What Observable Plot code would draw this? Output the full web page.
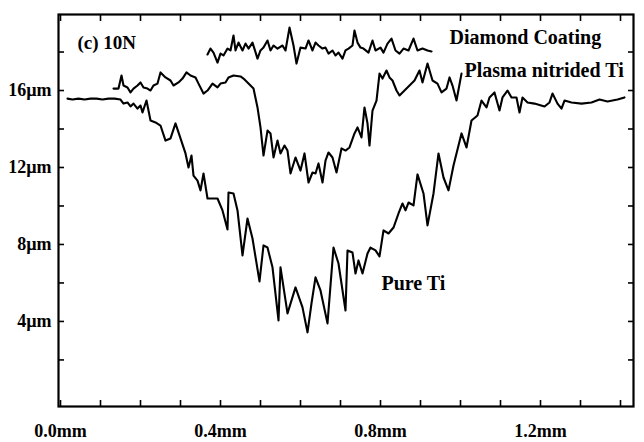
<!DOCTYPE html>
<html>
<head>
<meta charset="utf-8">
<script src="https://cdn.jsdelivr.net/npm/d3@7"></script>
<script src="https://cdn.jsdelivr.net/npm/@observablehq/plot@0.6"></script>
<style>
  html, body { margin: 0; padding: 0; background: white; }
</style>
</head>
<body>
<div id="chart"></div>
<script>
// ---- data (mm along scan, µm depth profile) ----
const pureTiX = [0.0175,0.03,0.045,0.06,0.075,0.09,0.105,0.12,0.135,0.15,0.1575,0.1675,0.175,0.1825,0.1925,0.2,0.205,0.215,0.225,0.2375,0.25,0.2625,0.275,0.2875,0.3,0.3125,0.32,0.3275,0.3325,0.3425,0.35,0.3575,0.3675,0.3825,0.3925,0.405,0.4175,0.42,0.4325,0.4425,0.455,0.4675,0.48,0.4975,0.5075,0.5175,0.53,0.545,0.55,0.5675,0.5875,0.605,0.6175,0.6275,0.6375,0.65,0.6675,0.6825,0.695,0.7125,0.7175,0.73,0.7375,0.745,0.755,0.7675,0.775,0.7875,0.7975,0.8075,0.82,0.8325,0.845,0.855,0.8625,0.87,0.8825,0.8925,0.9075,0.9175,0.9325,0.945,0.9575,0.97,0.9825,1.0025,1.015,1.0275,1.0425,1.0525,1.065,1.0725,1.085,1.0975,1.105,1.1175,1.1275,1.14,1.1475,1.155,1.1675,1.185,1.21,1.2225,1.23,1.2425,1.2525,1.26,1.2775,1.3025,1.3275,1.3475,1.3675,1.3925,1.41];
const pureTiY = [15.58,15.53,15.58,15.53,15.58,15.58,15.53,15.58,15.58,15.53,15.32,15.38,15.17,15.32,15.06,15.22,14.86,15.48,14.44,14.34,14.18,13.40,13.51,14.29,13.51,12.73,12.0,12.62,11.58,11.32,10.81,11.69,10.39,10.39,10.39,9.77,8.78,10.70,10.65,9.77,7.43,9.35,8.31,6.08,7.95,7.84,6.81,4.05,6.81,4.42,5.77,4.73,3.43,4.94,6.29,5.61,3.90,7.84,7.01,4.57,7.69,7.58,6.49,7.17,6.49,7.53,7.84,7.69,7.38,8.73,8.57,8.88,9.61,10.13,9.77,10.18,10.03,11.64,10.65,8.99,10.65,12.73,11.48,10.81,12.10,13.77,13.04,14.44,14.70,15.48,15.12,15.64,15.90,14.96,15.64,16.0,15.64,15.64,14.86,15.64,15.38,15.32,15.17,15.38,15.84,15.32,15.06,15.48,15.38,15.32,15.38,15.53,15.43,15.53,15.64];

const plasmaX = [0.1325,0.145,0.1525,0.1575,0.1675,0.175,0.1825,0.1925,0.2,0.2075,0.2175,0.225,0.2325,0.2425,0.25,0.2625,0.275,0.2825,0.295,0.305,0.315,0.325,0.3375,0.345,0.3575,0.3675,0.38,0.3925,0.4,0.4125,0.42,0.4325,0.45,0.4575,0.47,0.4825,0.4925,0.5,0.5075,0.5175,0.525,0.5325,0.5425,0.55,0.56,0.5675,0.575,0.5875,0.6,0.61,0.62,0.63,0.6375,0.645,0.655,0.6625,0.67,0.68,0.69,0.7025,0.7125,0.7225,0.735,0.7425,0.7525,0.76,0.7675,0.7725,0.78,0.79,0.7975,0.805,0.815,0.8225,0.83,0.84,0.8475,0.86,0.8725,0.885,0.8975,0.905,0.9175,0.93,0.9425,0.9525,0.965,0.9725,0.98,0.99,1.0025];
const plasmaY = [16.10,16.10,16.78,16.26,16.16,15.90,16.10,16.26,16.42,16.16,16.10,16.0,16.26,16.36,16.94,16.68,16.52,16.26,16.42,16.62,16.94,16.78,16.68,16.36,15.84,16.0,16.36,16.16,16.36,16.42,16.68,16.78,16.73,16.62,16.36,16.10,15.12,14.08,12.62,13.92,13.77,12.52,13.40,12.73,13.14,12.88,11.69,12.52,11.84,12.73,11.22,11.74,11.69,12.21,11.22,12.36,12.78,12.52,11.74,12.99,12.88,13.04,13.77,14.08,13.56,15.12,14.29,13.14,14.96,15.48,16.88,16.62,17.04,16.68,16.52,16.0,15.74,16.0,16.26,16.52,17.04,16.42,17.40,16.52,16.36,15.90,16.10,16.68,16.26,15.48,16.88];

const diamondX = [0.3675,0.375,0.3825,0.3925,0.4,0.4075,0.4175,0.425,0.4325,0.4375,0.445,0.455,0.4625,0.47,0.48,0.4925,0.5,0.5075,0.5175,0.525,0.5325,0.5425,0.555,0.5625,0.5725,0.5825,0.59,0.6,0.6125,0.62,0.63,0.6375,0.645,0.655,0.6625,0.67,0.68,0.6875,0.695,0.705,0.7125,0.72,0.73,0.735,0.7425,0.75,0.7575,0.77,0.78,0.7875,0.8,0.8075,0.8175,0.8275,0.8375,0.8475,0.8575,0.87,0.8825,0.8925,0.905,0.9175,0.9275];
const diamondY = [17.87,18.18,17.97,17.45,17.92,17.82,18.18,18.08,18.86,18.08,18.49,18.08,18.44,18.18,18.49,17.66,18.08,18.23,18.60,18.08,18.34,18.18,18.34,18.08,19.27,18.34,17.40,18.23,18.18,18.60,18.08,18.49,18.34,18.18,18.23,17.92,18.08,17.82,17.97,17.66,18.08,18.18,18.34,19.12,18.49,18.23,18.18,17.97,18.60,18.08,18.23,17.97,18.44,18.70,18.08,17.92,18.18,18.08,18.70,18.08,18.18,18.08,18.03];

const xTicksAll = [0,0.1,0.2,0.3,0.4,0.5,0.6,0.7,0.8,0.9,1.0,1.1,1.2,1.3,1.4];
const xLabelTicks = [0,0.4,0.8,1.2];
const yTicksAll = [2,4,6,8,10,12,14,16,18];
const yLabelTicks = [4,8,12,16];

const series = [
  {name: "Pure Ti", xs: pureTiX, ys: pureTiY},
  {name: "Plasma nitrided Ti", xs: plasmaX, ys: plasmaY},
  {name: "Diamond Coating", xs: diamondX, ys: diamondY}
];
const rows = series.flatMap(s => s.xs.map((x, i) => ({series: s.name, x, y: s.ys[i]})));

const serif = "'Liberation Serif', 'Times New Roman', serif";

const chart = Plot.plot({
  width: 644,
  height: 442,
  marginLeft: 58,
  marginRight: 11,
  marginTop: 14,
  marginBottom: 36,
  x: {domain: [-0.005, 1.4325], label: null},
  y: {domain: [-0.42, 19.95], label: null},
  style: {fontFamily: serif, fontWeight: "bold", background: "white", color: "black"},
  marks: [
    Plot.axisX({anchor: "bottom", ticks: xTicksAll, tickSize: -6, tickFormat: () => "", strokeWidth: 1.6, label: null}),
    Plot.axisX({anchor: "top", ticks: xTicksAll, tickSize: -6, tickFormat: () => "", strokeWidth: 1.6, label: null}),
    Plot.axisX({anchor: "bottom", ticks: xLabelTicks, tickSize: 0, tickPadding: 18, tickFormat: d => d.toFixed(1) + "mm", fontSize: 18, fontWeight: "bold", label: null}),
    Plot.axisY({anchor: "left", ticks: yTicksAll, tickSize: -6, tickFormat: () => "", strokeWidth: 1.6, label: null}),
    Plot.axisY({anchor: "right", ticks: yTicksAll, tickSize: -6, tickFormat: () => "", strokeWidth: 1.6, label: null}),
    Plot.axisY({anchor: "left", ticks: yLabelTicks, tickSize: 0, tickPadding: 7, tickFormat: d => d + "µm", fontSize: 18, fontWeight: "bold", label: null}),
    Plot.frame({stroke: "black", strokeWidth: 2.2}),
    Plot.line(rows, {x: "x", y: "y", z: "series", stroke: "black", strokeWidth: 2.1, strokeLinejoin: "round", curve: "linear"}),
    Plot.text(["(c) 10N"], {text: d => d, frameAnchor: "top-left", dx: 19, dy: 28, textAnchor: "start", lineAnchor: "middle", fontSize: 19, fontWeight: "bold"}),
    Plot.text(["Diamond Coating"], {text: d => d, frameAnchor: "top-left", dx: 391, dy: 23, textAnchor: "start", lineAnchor: "middle", fontSize: 20, fontWeight: "bold"}),
    Plot.text(["Plasma nitrided Ti"], {text: d => d, frameAnchor: "top-left", dx: 406, dy: 56, textAnchor: "start", lineAnchor: "middle", fontSize: 20, fontWeight: "bold"}),
    Plot.text(["Pure Ti"], {text: d => d, frameAnchor: "top-left", dx: 323, dy: 269, textAnchor: "start", lineAnchor: "middle", fontSize: 20, fontWeight: "bold"})
  ]
});
document.getElementById("chart").appendChild(chart);
</script>
</body>
</html>
